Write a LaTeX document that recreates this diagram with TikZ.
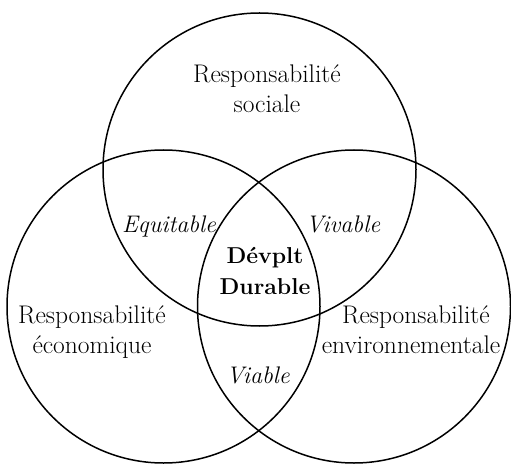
\documentclass[tikz,border=0pt]{standalone}
\usepackage{fontspec}
\begin{document}
\begin{tikzpicture}[x=1pt,y=1pt,
  ring/.style={draw=black,line width=1.5pt},
  lbl/.style={anchor=base,inner sep=0pt,font=\fontsize{25.5}{31}\selectfont},
  ilbl/.style={lbl,font=\fontsize{24}{31}\selectfont\itshape},
  blbl/.style={lbl,font=\fontsize{23}{31}\selectfont\bfseries}]
\useasboundingbox (0,0) rectangle (511,464);
\draw[ring] (259.5,294.5) circle[radius=156.5];
\draw[ring] (163.5,157.5) circle[radius=156.5];
\draw[ring] (354,157.5) circle[radius=156.5];
\node[lbl] (soc1) at (267,381) {Responsabilité};
\node[lbl] (soc2) at (267,351) {sociale};
\node[ilbl] (equi) at (169,231) {Equitable};
\node[ilbl] (viva) at (343,231) {Vivable};
\node[blbl] (dev1) at (265,201) {Dévplt};
\node[blbl] (dev2) at (265,170) {Durable};
\node[lbl] (eco1) at (92,141) {Responsabilité};
\node[lbl] (eco2) at (92,111) {économique};
\node[lbl] (env1) at (416,141) {Responsabilité};
\node[lbl] (env2) at (411,111) {environnementale};
\node[ilbl] (viab) at (258,81) {Viable};
\end{tikzpicture}
\end{document}
